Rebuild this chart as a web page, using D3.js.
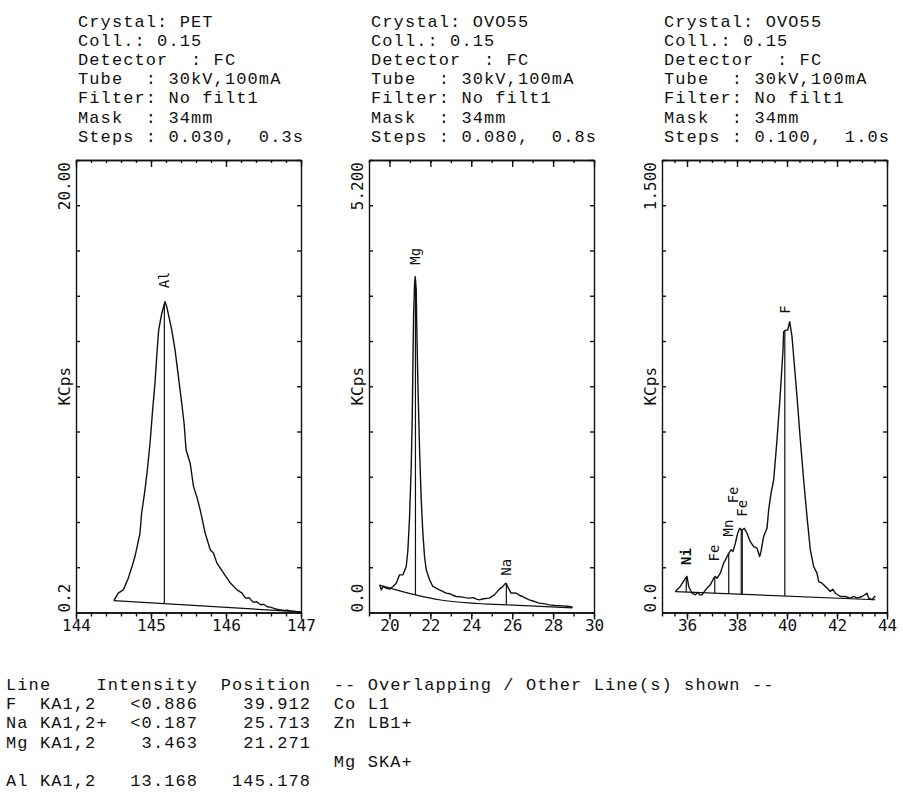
<!DOCTYPE html>
<html>
<head>
<meta charset="utf-8">
<script src="https://cdn.jsdelivr.net/npm/d3@7"></script>
<style>
  body { margin: 0; background: #fff; }
  svg { display: block; background: #fff; }
  .hdr, .tbl { font-family: "Liberation Mono", monospace; font-size: 17px; letter-spacing: 1.1px; fill: #111; white-space: pre; }
  .ylbl { font-family: "DejaVu Sans Mono", monospace; font-size: 16px; fill: #111; }
  .peak-lbl { font-family: "DejaVu Sans Mono", monospace; font-size: 14px; fill: #111; }
  .spec { fill: none; stroke: #111; stroke-width: 1.4; stroke-linejoin: round; }
  .base, .pline { fill: none; stroke: #111; stroke-width: 1.2; }
  .axis path, .axis line { stroke: #111; stroke-width: 1.4; }
</style>
</head>
<body>
<svg class="chart"></svg>
<script>
// ---- header texts ----
var petHeader = ["Crystal: PET", "Coll.: 0.15", "Detector  : FC", "Tube  : 30kV,100mA",
                 "Filter: No filt1", "Mask  : 34mm", "Steps : 0.030,  0.3s"];
var ovoHeader = ["Crystal: OVO55", "Coll.: 0.15", "Detector  : FC", "Tube  : 30kV,100mA",
                 "Filter: No filt1", "Mask  : 34mm", "Steps : 0.080,  0.8s"];
var ovoFHeader = ["Crystal: OVO55", "Coll.: 0.15", "Detector  : FC", "Tube  : 30kV,100mA",
                  "Filter: No filt1", "Mask  : 34mm", "Steps : 0.100,  1.0s"];

// ---- axis ranges and tick labels ----
var petXDomain = [144, 147], petXMajors = [144, 145, 146, 147];
var ovoXDomain = [19, 30],   ovoXMajors = [20, 22, 24, 26, 28, 30];
var ovoFXDomain = [35, 44],  ovoFXMajors = [36, 38, 40, 42, 44];
var yMinLabels = ["0.2", "0.0", "0.0"];
var yMarkLabels = ["20.00", "5.200", "1.500"];
var yMins = [0.2, 0, 0];
var yMarks = [20, 5.2, 1.5];

// ---- panel 1: PET, Al KA ----
var petPos = [144.505,144.563,144.630,144.697,144.741,144.786,144.853,144.875,144.920,144.951,
  144.987,145.022,145.053,145.076,145.102,145.143,145.187,145.210,145.277,145.321,145.366,145.410,
  145.441,145.468,145.522,145.567,145.611,145.656,145.723,145.790,145.834,145.879,145.968,146.058,
  146.147,146.214,146.25,146.28,146.31,146.34,146.37,146.41,146.46,146.50,146.55,146.59,146.64,
  146.68,146.73,146.78,146.82,146.86,146.90,146.95,146.995];
var petKcps = [0.78,1.14,1.30,1.87,2.36,2.92,4.05,5.03,6.16,7.13,
  8.43,10.05,11.35,12.63,13.93,14.74,15.31,15.07,13.93,12.96,11.66,10.37,
  9.40,8.10,7.46,6.32,5.83,5.19,4.05,3.25,3.08,2.60,2.11,1.63,
  1.30,1.14,0.95,0.89,0.92,0.78,0.69,0.72,0.58,0.60,0.48,0.46,0.40,
  0.36,0.33,0.30,0.31,0.27,0.26,0.24,0.23];
var petBasePos = [144.505, 146.995], petBaseKcps = [0.78, 0.23];
var petLinePos = [145.178];
var petLabels = ["Al"], petLabelPos = [145.178], petLabelKcps = [15.96];

// ---- panel 2: OVO55, Mg / Na KA ----
var ovoPos = [19.520,19.602,19.683,19.846,20.008,20.171,20.333,20.496,20.659,20.821,20.902,20.984,
  21.065,21.114,21.146,21.179,21.228,21.260,21.309,21.341,21.390,21.472,21.553,21.634,21.715,21.797,
  21.959,22.122,22.447,22.6,22.772,22.95,23.1,23.26,23.5,23.7,23.911,24.1,24.25,24.398,24.6,24.886,
  25.13,25.374,25.537,25.667,25.713,25.78,25.943,26.05,26.187,26.35,26.512,26.837,27.1,27.325,27.6,
  27.813,28.1,28.463,28.7,28.951];
var ovoKcps = [0.353,0.289,0.332,0.311,0.298,0.332,0.374,0.481,0.481,0.587,0.800,1.225,
  1.863,2.501,3.139,3.778,4.203,4.288,4.118,3.565,2.927,2.076,1.438,1.012,0.715,0.545,
  0.417,0.332,0.289,0.27,0.247,0.24,0.22,0.204,0.2,0.19,0.183,0.19,0.17,0.162,0.175,0.183,
  0.225,0.298,0.33,0.37,0.37,0.33,0.247,0.25,0.247,0.22,0.204,0.162,0.14,0.119,0.11,
  0.098,0.09,0.085,0.08,0.07];
var ovoBasePos = [19.52, 21.271, 22.5, 24.0, 25.713, 28.951];
var ovoBaseKcps = [0.35, 0.225, 0.16, 0.12, 0.098, 0.06];
var ovoLinePos = [21.271, 25.713];
var ovoLabels = ["Mg", "Na"], ovoLabelPos = [21.271, 25.713], ovoLabelKcps = [4.44, 0.47];

// ---- panel 3: OVO55, F KA with Ni / Fe / Mn L lines ----
var ovoFPos = [35.533,35.733,35.933,36.000,36.067,36.200,36.333,36.427,36.507,36.600,36.693,36.800,
  36.933,37.067,37.133,37.200,37.333,37.467,37.573,37.667,37.760,37.840,37.933,38.027,38.107,38.200,
  38.293,38.400,38.533,38.667,38.800,38.907,38.960,39.067,39.200,39.267,39.360,39.467,39.600,39.733,
  39.840,39.867,39.933,40.027,40.107,40.200,40.267,40.400,40.533,40.667,40.800,40.933,41.067,41.200,
  41.267,41.400,41.600,41.733,41.827,41.933,42.133,42.333,42.533,42.667,42.800,43.000,43.200,43.267,
  43.400,43.533];
var ovoFKcps = [0.077,0.096,0.126,0.133,0.096,0.071,0.065,0.074,0.065,0.065,0.077,0.090,
  0.102,0.126,0.133,0.126,0.145,0.182,0.200,0.218,0.231,0.225,0.255,0.292,0.310,0.304,
  0.310,0.292,0.261,0.243,0.237,0.206,0.225,0.280,0.310,0.378,0.439,0.488,0.636,0.807,
  0.967,1.034,1.040,1.040,1.071,1.016,0.942,0.795,0.636,0.488,0.353,0.231,0.169,0.145,
  0.114,0.108,0.090,0.077,0.086,0.071,0.059,0.059,0.053,0.059,0.053,0.059,0.071,0.053,
  0.047,0.061];
var ovoFBasePos = [35.533, 43.533], ovoFBaseKcps = [0.077, 0.047];
var ovoFLinePos = [35.97, 37.11, 37.67, 38.17, 38.21, 39.912];
var ovoFLabels = ["Ni", "Fe", "Mn", "Fe", "Fe", "F"];
var ovoFLabelPos = [35.97, 37.07, 37.64, 37.84, 38.2, 39.91];
var ovoFLabelKcps = [0.175, 0.188, 0.28, 0.402, 0.353, 1.10];

// ---- result table ----
var tableRows = [
  "Line    Intensity  Position  -- Overlapping / Other Line(s) shown --",
  "F  KA1,2   <0.886    39.912  Co L1",
  "Na KA1,2+  <0.187    25.713  Zn LB1+",
  "Mg KA1,2    3.463    21.271",
  "                             Mg SKA+",
  "Al KA1,2   13.168   145.178"
];

var panels = [
  { hdr: petHeader, xd: petXDomain, majors: petXMajors, step: 0.2,
    pos: petPos, kcps: petKcps, bPos: petBasePos, bKcps: petBaseKcps,
    lines: petLinePos, lbl: petLabels, lblPos: petLabelPos, lblKcps: petLabelKcps },
  { hdr: ovoHeader, xd: ovoXDomain, majors: ovoXMajors, step: 1,
    pos: ovoPos, kcps: ovoKcps, bPos: ovoBasePos, bKcps: ovoBaseKcps,
    lines: ovoLinePos, lbl: ovoLabels, lblPos: ovoLabelPos, lblKcps: ovoLabelKcps },
  { hdr: ovoFHeader, xd: ovoFXDomain, majors: ovoFXMajors, step: 0.5,
    pos: ovoFPos, kcps: ovoFKcps, bPos: ovoFBasePos, bKcps: ovoFBaseKcps,
    lines: ovoFLinePos, lbl: ovoFLabels, lblPos: ovoFLabelPos, lblKcps: ovoFLabelKcps }
];

var width = 903, height = 792;
var lefts = [76, 369, 662], plotW = 225;
var plotTop = 160, plotBottom = 612.5;

var svg = d3.select(".chart").attr("width", width).attr("height", height);

function interp(xs, ys, v) {
  var i = d3.bisectLeft(xs, v);
  if (i <= 0) return ys[0];
  if (i >= xs.length) return ys[ys.length - 1];
  var t = (v - xs[i - 1]) / (xs[i] - xs[i - 1]);
  return ys[i - 1] + t * (ys[i] - ys[i - 1]);
}

panels.forEach(function (p, i) {
  var x0 = lefts[i], x1 = x0 + plotW;
  var x = d3.scaleLinear().domain(p.xd).range([x0, x1]);
  var yTop = yMins[i] + (yMarks[i] - yMins[i]) * 10 / 9;
  var y = d3.scaleLinear().domain([yMins[i], yTop]).range([plotBottom, plotTop]);
  var g = svg.append("g");

  // header block
  g.append("g").selectAll("text").data(p.hdr).enter().append("text")
    .attr("class", "hdr")
    .attr("xml:space", "preserve")
    .attr("x", x0 + 2)
    .attr("y", function (d, k) { return 26.5 + k * 19.2; })
    .text(function (d) { return d; });

  // axes: a box, inward ticks on top/left/right, outward on the bottom
  var minors = d3.range(p.xd[0], p.xd[1] + 1e-6, p.step);
  var yTicks = d3.range(0, 11).map(function (k) { return yMins[i] + k * (yTop - yMins[i]) / 10; });

  g.append("g").attr("class", "axis").attr("transform", "translate(0," + plotBottom + ")")
    .call(d3.axisBottom(x).tickValues(minors).tickSize(4).tickSizeOuter(0).tickFormat(""));
  var bx = g.append("g").attr("class", "axis").attr("transform", "translate(0," + plotBottom + ")")
    .call(d3.axisBottom(x).tickValues(p.majors).tickSize(7).tickPadding(0).tickSizeOuter(0)
      .tickFormat(d3.format("d")));
  bx.attr("font-family", "DejaVu Sans Mono").attr("font-size", 16);
  bx.selectAll("text").attr("fill", "#111");

  g.append("g").attr("class", "axis").attr("transform", "translate(0," + plotTop + ")")
    .call(d3.axisTop(x).tickValues(minors).tickSize(-3).tickSizeOuter(0).tickFormat(""));
  g.append("g").attr("class", "axis").attr("transform", "translate(0," + plotTop + ")")
    .call(d3.axisTop(x).tickValues(p.majors).tickSize(-7).tickSizeOuter(0).tickFormat(""));

  g.append("g").attr("class", "axis").attr("transform", "translate(" + x0 + ",0)")
    .call(d3.axisLeft(y).tickValues(yTicks).tickSize(-4).tickSizeOuter(0).tickFormat(""));
  g.append("g").attr("class", "axis").attr("transform", "translate(" + x1 + ",0)")
    .call(d3.axisRight(y).tickValues(yTicks).tickSize(-4).tickSizeOuter(0).tickFormat(""));

  // rotated y labels
  var lx = x0 - 11.6;
  g.append("text").attr("class", "ylbl")
    .attr("transform", "translate(" + lx + "," + (y(yMarks[i]) + 5) + ") rotate(-90)")
    .attr("dy", "0.35em").attr("text-anchor", "start").text(yMarkLabels[i]);
  g.append("text").attr("class", "ylbl")
    .attr("transform", "translate(" + lx + "," + y(yMins[i]) + ") rotate(-90)")
    .attr("dy", "0.35em").attr("text-anchor", "start").text(yMinLabels[i]);
  g.append("text").attr("class", "ylbl")
    .attr("transform", "translate(" + lx + "," + ((plotTop + plotBottom) / 2) + ") rotate(-90)")
    .attr("dy", "0.35em").attr("text-anchor", "middle").text("KCps");

  // spectrum
  var line = d3.line().x(function (d) { return x(d[0]); }).y(function (d) { return y(d[1]); });
  g.append("path").attr("class", "spec")
    .attr("d", line(d3.zip(p.pos, p.kcps)));

  // background line
  g.append("path").attr("class", "base")
    .attr("d", line.curve(d3.curveMonotoneX)(d3.zip(p.bPos, p.bKcps)));

  // peak marker lines
  g.append("g").selectAll("line").data(p.lines).enter().append("line")
    .attr("class", "pline")
    .attr("x1", function (d) { return x(d); })
    .attr("x2", function (d) { return x(d); })
    .attr("y1", function (d) { return y(interp(p.bPos, p.bKcps, d)); })
    .attr("y2", function (d) { return y(interp(p.pos, p.kcps, d)); });

  // peak labels
  g.append("g").selectAll("text").data(p.lbl).enter().append("text")
    .attr("class", "peak-lbl")
    .attr("font-weight", function (d) { return d === "Ni" ? "bold" : null; })
    .attr("transform", function (d, k) {
      return "translate(" + x(p.lblPos[k]) + "," + y(p.lblKcps[k]) + ") rotate(-90)";
    })
    .attr("dy", "0.35em")
    .text(function (d) { return d; });
});

// table at the bottom
svg.append("g").selectAll("text").data(tableRows).enter().append("text")
  .attr("class", "tbl")
  .attr("xml:space", "preserve")
  .attr("x", 6)
  .attr("y", function (d, k) { return 690 + k * 19.2; })
  .text(function (d) { return d; });
</script>
</body>
</html>
